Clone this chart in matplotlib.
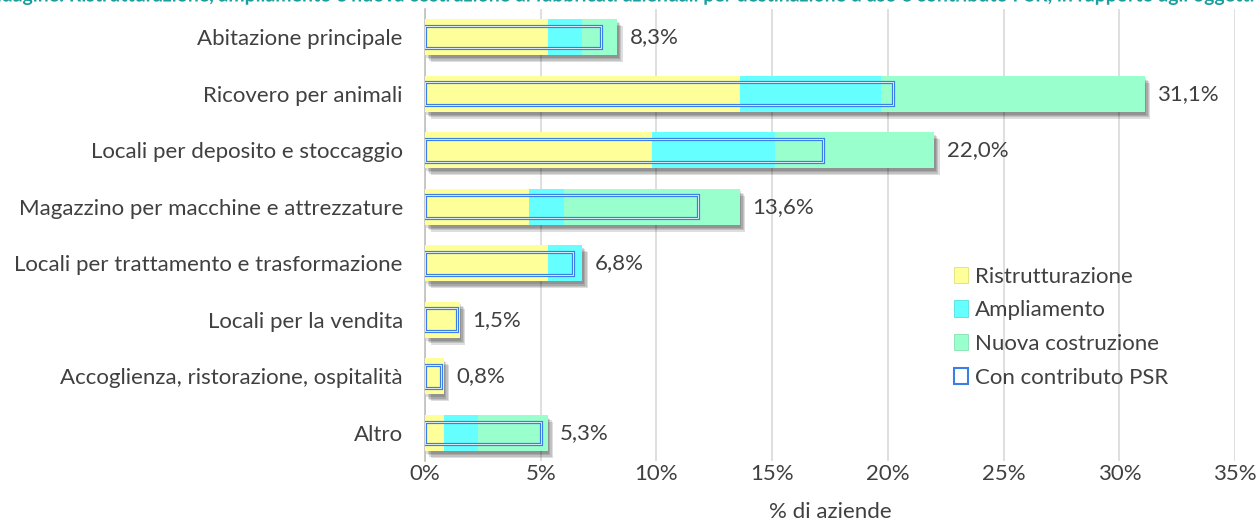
import matplotlib.pyplot as plt
import matplotlib.patheffects as pe
from matplotlib.patches import Patch
from matplotlib.ticker import FuncFormatter
import numpy as np

# Destinazione d'uso dei fabbricati (dall'alto verso il basso)
categorie = ['Abitazione principale', 'Ricovero per animali', 'Locali per deposito e stoccaggio',
             'Magazzino per macchine e attrezzature', 'Locali per trattamento e trasformazione',
             'Locali per la vendita', 'Accoglienza, ristorazione, ospitalità', 'Altro']
ristrutturazione = [5.3, 13.6, 9.8, 4.5, 5.3, 1.5, 0.8, 0.8]
ampliamento = [1.5, 6.1, 5.3, 1.5, 1.5, 0.0, 0.0, 1.5]
nuova_costruzione = [1.5, 11.4, 6.9, 7.6, 0.0, 0.0, 0.0, 3.0]
contributo_psr = [7.6, 20.2, 17.2, 11.8, 6.4, 1.4, 0.7, 5.0]
xticks = [0, 5, 10, 15, 20, 25, 30, 35]

c_ristr = '#FFFF99'
c_ampl = '#66FFFF'
c_nuova = '#99FFCC'
c_psr = '#3A7FE6'
testo = '#404040'
fs = 16

plt.rcParams['font.family'] = ['Lato', 'DejaVu Sans']

fig = plt.figure(figsize=(12.59, 5.24), dpi=100)
ax = fig.add_axes([0.3376, 0.12, 0.6434, 0.863])

y = np.arange(len(categorie))
r = np.array(ristrutturazione)
a = np.array(ampliamento)
n = np.array(nuova_costruzione)
totale = r + a + n
h = 0.64

# ombra morbida dietro l'intera barra
ombra = [pe.SimplePatchShadow(offset=(o, -o - 1), shadow_rgbFace='black', alpha=0.13)
         for o in (1, 2, 3, 4)] + [pe.Normal()]
ax.barh(y, totale, height=h, color='white', zorder=2, path_effects=ombra)

ax.barh(y, r, height=h, color=c_ristr, zorder=3, label='Ristrutturazione')
ax.barh(y, a, left=r, height=h, color=c_ampl, zorder=3, label='Ampliamento')
ax.barh(y, n, left=r + a, height=h, color=c_nuova, zorder=3, label='Nuova costruzione')

# riquadro a doppia linea per il contributo PSR
ax.barh(y, contributo_psr, height=0.4, facecolor='none', edgecolor=c_psr, linewidth=2.3, zorder=4)
ax.barh(y, contributo_psr, height=0.4, facecolor='none', edgecolor='#DCE9FB', linewidth=0.7, zorder=5)

for yi, t in zip(y, totale):
    ax.annotate(f"{t:.1f}".replace('.', ',') + '%', (t, yi), xytext=(9, 0), textcoords='offset points',
                va='center', ha='left', fontsize=fs, color=testo)

ax.set_xlim(0, 35)
ax.set_ylim(len(categorie) - 0.5, -0.5)
ax.set_yticks(y)
ax.set_yticklabels(categorie)
ax.set_xticks(xticks)
ax.xaxis.set_major_formatter(FuncFormatter(lambda v, p: f"{v:.0f}%"))
ax.tick_params(axis='both', length=0, labelsize=fs, labelcolor=testo)
ax.tick_params(axis='x', pad=2)
ax.tick_params(axis='y', pad=16)
ax.grid(axis='x', color='#D9D9D9', linewidth=1.2, zorder=0)
ax.set_axisbelow(True)
for s in ['top', 'right', 'bottom']:
    ax.spines[s].set_visible(False)
ax.spines['left'].set_color('#BFBFBF')
ax.spines['left'].set_linewidth(1.2)
ax.set_xlabel('% di aziende', fontsize=fs, color=testo, labelpad=13)

handles = [Patch(facecolor=c_ristr, edgecolor='#E0E070', linewidth=0.6, label='Ristrutturazione'),
           Patch(facecolor=c_ampl, edgecolor='#55E0E0', linewidth=0.6, label='Ampliamento'),
           Patch(facecolor=c_nuova, edgecolor='#88E0B0', linewidth=0.6, label='Nuova costruzione'),
           Patch(facecolor='white', edgecolor=c_psr, linewidth=1.5, label='Con contributo PSR')]
ax.legend(handles=handles, loc='upper left', bbox_to_anchor=(0.642, 0.45), frameon=False,
          fontsize=fs, labelcolor=testo, handlelength=0.65, handleheight=0.75, handletextpad=0.3,
          labelspacing=0.62, borderaxespad=0)

# titolo: tagliato sul bordo superiore (disegnato come tracciato per un ritaglio netto)
fig.text(-0.012, 1 - 1.5 / 524, "Indagine: Ristrutturazione, ampliamento e nuova costruzione di fabbricati aziendali "
         "per destinazione d'uso e contributo PSR, in rapporto agli oggetti",
         fontsize=14, fontweight='bold', color='#1A9E9E', ha='left', va='baseline',
         path_effects=[pe.Normal()])

fig.savefig('out.png', dpi=100)
